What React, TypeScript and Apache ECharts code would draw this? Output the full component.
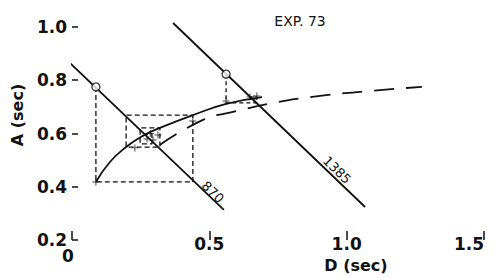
import React, { useEffect, useRef } from "react";
import * as echarts from "echarts";

// Axis ticks
const xTicks = [0, 0.5, 1.0, 1.5];
const yTicks = [0.2, 0.4, 0.6, 0.8, 1.0];

// Straight lines  (D, A)
const line870: number[][] = [[-0.015, 0.872], [0.553, 0.313]];
const line1385: number[][] = [[0.368, 1.015], [1.067, 0.324]];
const lineNames = ["870", "1385"];

// Solid curve
const solidCurve: number[][] = [
  [0.087, 0.418], [0.138, 0.493], [0.197, 0.549], [0.258, 0.591],
  [0.32, 0.621], [0.44, 0.669], [0.561, 0.711], [0.692, 0.737],
];

// Long-dash curve
const dashCurve: number[][] = [
  [0.32, 0.557], [0.477, 0.651], [0.586, 0.681], [0.732, 0.715],
  [0.903, 0.741], [1.085, 0.76], [1.274, 0.775],
];

// Cobweb steps (dashed)
const cobweb870: number[][] = [
  [0.087, 0.775], [0.087, 0.418], [0.44, 0.418], [0.44, 0.669],
  [0.197, 0.669], [0.197, 0.549], [0.32, 0.549], [0.32, 0.621],
  [0.248, 0.621], [0.248, 0.561], [0.291, 0.561], [0.291, 0.598],
  [0.265, 0.598],
];
const cobweb1385: number[][] = [
  [0.561, 0.823], [0.561, 0.715], [0.673, 0.715], [0.673, 0.737],
  [0.648, 0.737], [0.648, 0.722],
];

// Open circles (starting points)
const circles: number[][] = [[0.087, 0.775], [0.561, 0.823]];

// Measured points (crosses)
const crosses: number[][] = [
  [0.087, 0.418], [0.44, 0.647], [0.229, 0.546], [0.313, 0.594],
  [0.273, 0.579], [0.295, 0.576], [0.285, 0.6], [0.561, 0.722],
  [0.648, 0.737], [0.673, 0.741], [0.662, 0.73],
];

const INK = "#111";
const FONT = "DejaVu Sans";
const PLUS = "path://M4.3,0H5.7V4.3H10V5.7H5.7V10H4.3V5.7H0V4.3H4.3Z";

export default function App() {
  const ref = useRef<HTMLDivElement>(null);
  useEffect(() => {
    if (!ref.current) return;
    const chart = echarts.init(ref.current, undefined, { renderer: "svg" });
    const tickLabel = {
      color: INK,
      fontFamily: FONT,
      fontWeight: "bold" as const,
      fontSize: 17,
    };
    chart.setOption({
      animation: false,
      backgroundColor: "#fff",
      grid: { left: 72, right: 10, top: 27, bottom: 38, containLabel: false, outerBoundsMode: "none" },
      xAxis: {
        type: "value",
        min: xTicks[0],
        max: xTicks[xTicks.length - 1],
        interval: 0.5,
        axisLine: { show: false },
        splitLine: { show: false },
        axisTick: { show: true, inside: true, length: 9, lineStyle: { color: INK, width: 1.5 } },
        axisLabel: {
          ...tickLabel,
          margin: -5,
          showMinLabel: true,
          showMaxLabel: true,
          alignMaxLabel: "right",
          formatter: (v: number) => (v === 0 ? "{z|0}" : v.toFixed(1)),
          rich: {
            z: { ...tickLabel, padding: [12, 8, 0, 0] },
          },
        },
      },
      yAxis: {
        type: "value",
        min: yTicks[0],
        max: yTicks[yTicks.length - 1],
        interval: 0.2,
        axisLine: { show: false },
        splitLine: { show: false },
        axisTick: { show: true, inside: true, length: 6, lineStyle: { color: INK, width: 1.5 } },
        axisLabel: { ...tickLabel, margin: 5, formatter: (v: number) => v.toFixed(1) },
      },
      graphic: [
        {
          type: "text", x: 300, y: 21,
          style: { text: "EXP. 73", fontFamily: FONT, fontSize: 14, fill: INK, align: "center", verticalAlign: "middle" },
        },
        {
          type: "text", x: 17, y: 115, rotation: Math.PI / 2,
          style: { text: "A (sec)", fontFamily: FONT, fontWeight: "bold", fontSize: 16, fill: INK, align: "center", verticalAlign: "middle" },
        },
        {
          type: "text", x: 356, y: 265,
          style: { text: "D (sec)", fontFamily: FONT, fontWeight: "bold", fontSize: 16, fill: INK, align: "center", verticalAlign: "middle" },
        },
      ],
      series: [
        {
          type: "line", data: line870, showSymbol: false, clip: false,
          lineStyle: { color: INK, width: 1.8 },
          markPoint: {
            symbol: "circle", symbolSize: 0, silent: true,
            label: { show: true, position: "inside", rotate: -44, color: INK, fontFamily: FONT, fontSize: 13, formatter: lineNames[0] },
            data: [{ coord: [0.513, 0.38] }],
          },
        },
        {
          type: "line", data: line1385, showSymbol: false, clip: false,
          lineStyle: { color: INK, width: 1.8 },
          markPoint: {
            symbol: "circle", symbolSize: 0, silent: true,
            label: { show: true, position: "inside", rotate: -44, color: INK, fontFamily: FONT, fontSize: 13, formatter: lineNames[1] },
            data: [{ coord: [0.965, 0.463] }],
          },
        },
        {
          type: "line", data: solidCurve, smooth: true, showSymbol: false,
          lineStyle: { color: INK, width: 1.8 },
        },
        {
          type: "line", data: dashCurve, smooth: true, showSymbol: false,
          lineStyle: { color: INK, width: 1.8, type: [20, 12] },
        },
        {
          type: "line", data: cobweb870, showSymbol: false,
          lineStyle: { color: INK, width: 1.3, type: [5, 3] },
        },
        {
          type: "line", data: cobweb1385, showSymbol: false,
          lineStyle: { color: INK, width: 1.3, type: [4, 3] },
        },
        {
          type: "scatter", data: crosses, symbol: PLUS, symbolSize: 7,
          itemStyle: { color: INK }, z: 5,
        },
        {
          type: "scatter", data: circles, symbol: "circle", symbolSize: 8,
          itemStyle: { color: "#fff", borderColor: INK, borderWidth: 1.4 }, z: 6,
        },
      ],
    });
    return () => chart.dispose();
  }, []);
  return <div ref={ref} style={{ position: "fixed", left: 0, top: 0, width: 494, height: 278 }} />;
}
